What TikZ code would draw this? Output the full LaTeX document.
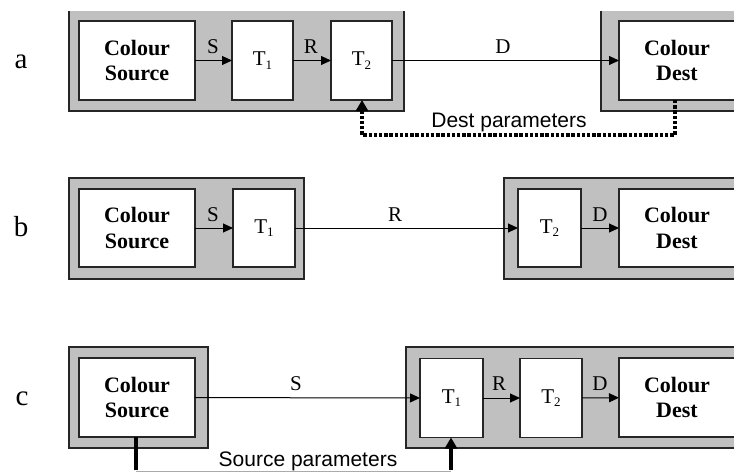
\documentclass[tikz,border=0pt]{standalone}
\usepackage{fontspec}
\setmainfont{Liberation Serif}
\newfontfamily\sansf{Liberation Sans}
\usetikzlibrary{arrows.meta}
\definecolor{panelgrey}{RGB}{192,192,192}
\definecolor{paramgrey}{RGB}{170,170,170}
\newcommand{\Tsub}[1]{T\raisebox{-3.5pt}{\fontsize{13}{13}\selectfont #1}}
\begin{document}
\begin{tikzpicture}[x=1pt,y=-1pt,
  panel/.style={draw=black!85,line width=1.4pt,fill=panelgrey,inner sep=0pt,outer sep=0pt},
  blk/.style={draw=black!85,line width=1.1pt,fill=white,inner sep=0pt,outer sep=0pt,align=center,font=\fontsize{21}{24}\selectfont},
  bigblk/.style={blk,font=\fontsize{22}{25.5}\selectfont\bfseries},
  lab/.style={font=\fontsize{21}{24}\selectfont,inner sep=0pt},
  rowlab/.style={font=\fontsize{29}{30}\selectfont,inner sep=0pt},
  plab/.style={font=\sansf\fontsize{21}{23}\selectfont,inner sep=0pt},
  conn/.style={line width=1pt,-{Triangle[length=10pt,width=9pt]}},
  dotconn/.style={line width=3.2pt,dash pattern=on 3.4pt off 1.8pt,-{Triangle[length=11pt,width=12pt]}},
  thickconn/.style={line width=3.2pt},
  thickarr/.style={line width=3.2pt,-{Triangle[length=11pt,width=12pt]}}]
\useasboundingbox (0,0) rectangle (734,472);
\clip (0,11) rectangle (734,472);

% ---------- row a ----------
\node[rowlab] (ra) at (21,62) {a};
\node[panel,minimum width=335pt,minimum height=110pt] (pa1) at (236.5,56) {};
\node[panel,minimum width=144pt,minimum height=110pt] (pa2) at (673,56) {};
\node[bigblk,minimum width=116pt,minimum height=79pt] (srca) at (137,60.5) {Colour\\Source};
\node[blk,minimum width=61pt,minimum height=79pt] (t1a) at (262.5,60.5) {\Tsub{1}};
\node[blk,minimum width=61pt,minimum height=79pt] (t2a) at (361.5,60.5) {\Tsub{2}};
\node[bigblk,minimum width=116pt,minimum height=79pt] (desta) at (677,60.5) {Colour\\Dest};
\draw[conn] (srca) -- (t1a);
\draw[conn] (t1a) -- (t2a);
\draw[conn] (t2a) -- (desta);
\node[lab] (lsa) at (213,47) {S};
\node[lab] (lra) at (311,47) {R};
\node[lab] (lda) at (503,47) {D};
\coordinate (dpa) at (675,135);
\coordinate (dpb) at (362,135);
\draw[dotconn] (desta.south -| dpa) -- (dpa) -- (dpb) -- (t2a.south -| dpb);
\node[plab] (dpl) at (509,122) {Dest parameters};

% ---------- row b ----------
\node[rowlab] (rb) at (21,227) {b};
\node[panel,minimum width=235pt,minimum height=101pt] (pb1) at (186.5,228.5) {};
\node[panel,minimum width=241pt,minimum height=101pt] (pb2) at (624.5,228.5) {};
\node[bigblk,minimum width=116pt,minimum height=78pt] (srcb) at (137,228) {Colour\\Source};
\node[blk,minimum width=62pt,minimum height=78pt] (t1b) at (264,228) {\Tsub{1}};
\node[blk,minimum width=63pt,minimum height=78pt] (t2b) at (549.5,228) {\Tsub{2}};
\node[bigblk,minimum width=116pt,minimum height=78pt] (destb) at (677,228) {Colour\\Dest};
\draw[conn] (srcb) -- (t1b);
\draw[conn] (t1b) -- (t2b);
\draw[conn] (t2b) -- (destb);
\node[lab] (lsb) at (213,215) {S};
\node[lab] (lrb) at (395,215) {R};
\node[lab] (ldb) at (600,215) {D};

% ---------- row c ----------
\node[rowlab] (rc) at (22,399) {c};
\node[panel,minimum width=139pt,minimum height=101pt] (pc1) at (138.5,397.5) {};
\node[panel,minimum width=339pt,minimum height=101pt] (pc2) at (575.5,397.5) {};
\node[bigblk,minimum width=116pt,minimum height=79pt] (srcc) at (137,397.5) {Colour\\Source};
\node[blk,minimum width=63pt,minimum height=79pt] (t1c) at (451.5,398) {\Tsub{1}};
\node[blk,minimum width=62pt,minimum height=79pt] (t2c) at (551,398) {\Tsub{2}};
\node[bigblk,minimum width=116pt,minimum height=79pt] (destc) at (677,397.5) {Colour\\Dest};
\draw[conn] (srcc) -- (t1c);
\draw[conn] (t1c) -- (t2c);
\draw[conn] (t2c) -- (destc);
\node[lab] (lsc) at (296,384) {S};
\node[lab] (lrc) at (499,384) {R};
\node[lab] (ldc) at (600,384) {D};
\coordinate (spa) at (136,471.5);
\coordinate (spb) at (451,471.5);
\draw[paramgrey,line width=1pt] (spa) -- (spb);
\draw[thickconn] (srcc.south -| spa) -- ([yshift=1.5pt]spa);
\draw[thickarr] ([yshift=1.5pt]spb) -- (t1c.south -| spb);
\node[plab] (spl) at (308,461) {Source parameters};
\end{tikzpicture}
\end{document}
